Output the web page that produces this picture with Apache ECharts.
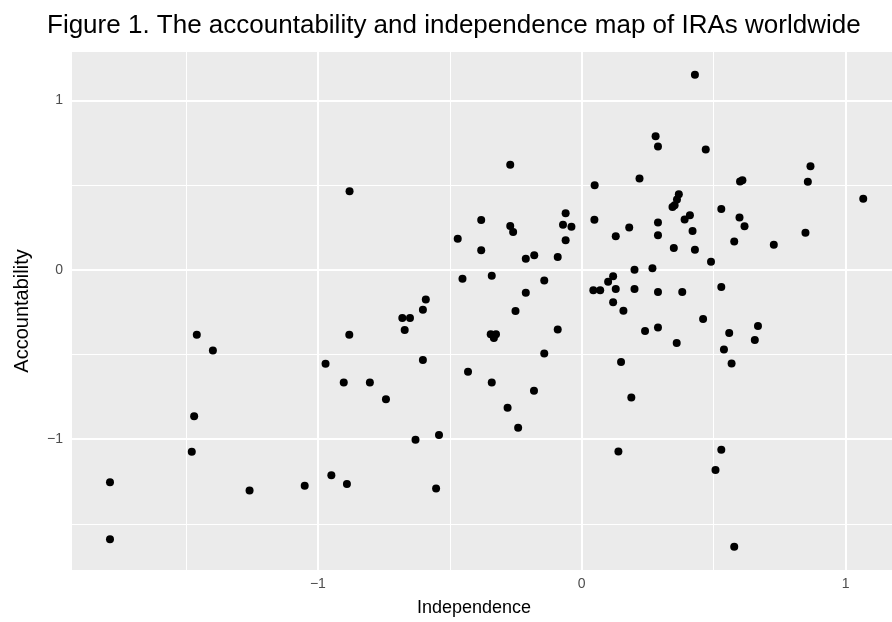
<!DOCTYPE html>
<html>
<head>
<meta charset="utf-8">
<script src="https://cdn.jsdelivr.net/npm/echarts@6/dist/echarts.min.js"></script>
<style>
html,body{margin:0;padding:0;background:#fff;}
#chart{width:892px;height:622px;}
</style>
</head>
<body>
<div id="chart"></div>
<script>
// ---- data ----
const titleText = "Figure 1. The accountability and independence map of IRAs worldwide";
const xName = "Independence";
const yName = "Accountability";
const independence = [
  -1.459,-1.398,-0.971,-1.469,-1.478,-1.788,-1.259,-1.050,-0.949,-1.788,
  -0.880,-0.381,-0.470,-0.381,-0.452,-0.341,-0.591,-0.602,-0.680,-0.651,
  -0.671,-0.881,-0.345,-0.325,-0.333,-0.602,-0.431,-0.902,-0.803,-0.742,
  -0.341,-0.630,-0.541,-0.890,-0.552,-0.271,-0.260,-0.061,-0.071,-0.039,
  -0.061,-0.212,-0.180,-0.091,0.048,-0.142,-0.212,-0.251,0.044,0.070,
  -0.091,-0.142,-0.181,-0.281,-0.241,-0.271,0.429,0.280,0.289,0.470,
  0.219,0.049,0.368,0.361,0.352,0.344,0.529,0.410,0.390,0.180,
  0.289,0.420,0.129,0.289,0.578,0.349,0.429,0.490,0.200,0.268,
  0.119,0.100,0.129,0.200,0.289,0.381,0.529,0.119,0.158,0.460,
  0.240,0.289,0.559,0.360,0.539,0.149,0.568,0.188,0.139,0.529,
  0.507,0.578,0.867,0.857,0.600,0.609,1.067,0.598,0.617,0.728,
  0.848,0.668,0.656
];
const accountability = [
  -0.384,-0.476,-0.555,-0.865,-1.075,-1.255,-1.304,-1.275,-1.214,-1.592,
  0.465,0.294,0.184,0.116,-0.053,-0.035,-0.175,-0.235,-0.284,-0.284,
  -0.355,-0.384,-0.380,-0.380,-0.402,-0.533,-0.602,-0.665,-0.665,-0.765,
  -0.665,-1.004,-0.975,-1.265,-1.292,0.259,0.224,0.335,0.267,0.255,
  0.175,0.065,0.086,0.076,0.296,-0.063,-0.135,-0.243,-0.121,-0.121,
  -0.353,-0.494,-0.714,-0.814,-0.933,0.621,1.152,0.789,0.729,0.711,
  0.540,0.500,0.447,0.416,0.382,0.372,0.359,0.323,0.298,0.251,
  0.280,0.229,0.199,0.205,0.168,0.129,0.119,0.048,0.000,0.009,
  -0.038,-0.070,-0.113,-0.113,-0.131,-0.131,-0.101,-0.192,-0.241,-0.290,
  -0.361,-0.341,-0.373,-0.432,-0.471,-0.544,-0.553,-0.754,-1.073,-1.063,
  -1.183,-1.635,0.612,0.520,0.522,0.530,0.420,0.310,0.258,0.149,
  0.219,-0.332,-0.414
];
const xTicks = [-1, 0, 1];
const xMinor = [-1.5, -0.5, 0.5];
const yTicks = [-1, 0, 1];
const yMinor = [-1.5, -0.5, 0.5];
const xRange = [-1.932, 1.176];
const yRange = [-1.773, 1.287];

// ---- build ----
const points = independence.map((x, i) => [x, accountability[i]]);
const fmt = v => String(v).replace('-', '\u2212');
const gridLines = []
  .concat(xMinor.map(v => ({ xAxis: v, lineStyle: { width: 1 } })))
  .concat(yMinor.map(v => ({ yAxis: v, lineStyle: { width: 1 } })))
  .concat(xTicks.map(v => ({ xAxis: v, lineStyle: { width: 2 } })))
  .concat(yTicks.map(v => ({ yAxis: v, lineStyle: { width: 2 } })));

const chart = echarts.init(document.getElementById('chart'), null, { renderer: 'canvas' });
const font = "'Liberation Sans', Arial, Helvetica, sans-serif";
chart.setOption({
  animation: false,
  backgroundColor: '#ffffff',
  textStyle: { fontFamily: font },
  title: {
    text: titleText,
    left: 42, top: 8,
    textStyle: { fontSize: 26, fontWeight: 'normal', color: '#000', fontFamily: font }
  },
  grid: {
    left: 72, top: 52, right: 0, bottom: 51,
    show: true, backgroundColor: '#EBEBEB', borderWidth: 0
  },
  xAxis: {
    type: 'value', min: xRange[0], max: xRange[1],
    name: xName, nameLocation: 'middle', nameGap: 29,
    nameTextStyle: { fontSize: 18, color: '#000', fontFamily: font, padding: [0, 16, 0, 0] },
    axisLine: { show: false },
    splitLine: { show: false },
    axisTick: { show: true, customValues: xTicks, length: 5, lineStyle: { color: '#333', width: 1.5 } },
    axisLabel: { customValues: xTicks, formatter: fmt, color: '#4D4D4D', fontSize: 14, margin: 7, fontFamily: font }
  },
  yAxis: {
    type: 'value', min: yRange[0], max: yRange[1],
    name: yName, nameLocation: 'middle', nameGap: 40,
    nameTextStyle: { fontSize: 20, color: '#000', fontFamily: font },
    axisLine: { show: false },
    splitLine: { show: false },
    axisTick: { show: true, customValues: yTicks, length: 5, lineStyle: { color: '#333', width: 1.5 } },
    axisLabel: { customValues: yTicks, formatter: fmt, color: '#4D4D4D', fontSize: 14, margin: 9, fontFamily: font }
  },
  series: [
    {
      type: 'scatter', data: [], z: 1, silent: true,
      markLine: {
        silent: true, symbol: ['none', 'none'], animation: false, z: 1,
        label: { show: false },
        lineStyle: { color: '#ffffff', type: 'solid' },
        emphasis: { disabled: true },
        data: gridLines
      }
    },
    {
      type: 'scatter', data: points, z: 10,
      symbol: 'circle', symbolSize: 8,
      itemStyle: { color: '#000000', opacity: 1 }
    }
  ]
});
</script>
</body>
</html>
